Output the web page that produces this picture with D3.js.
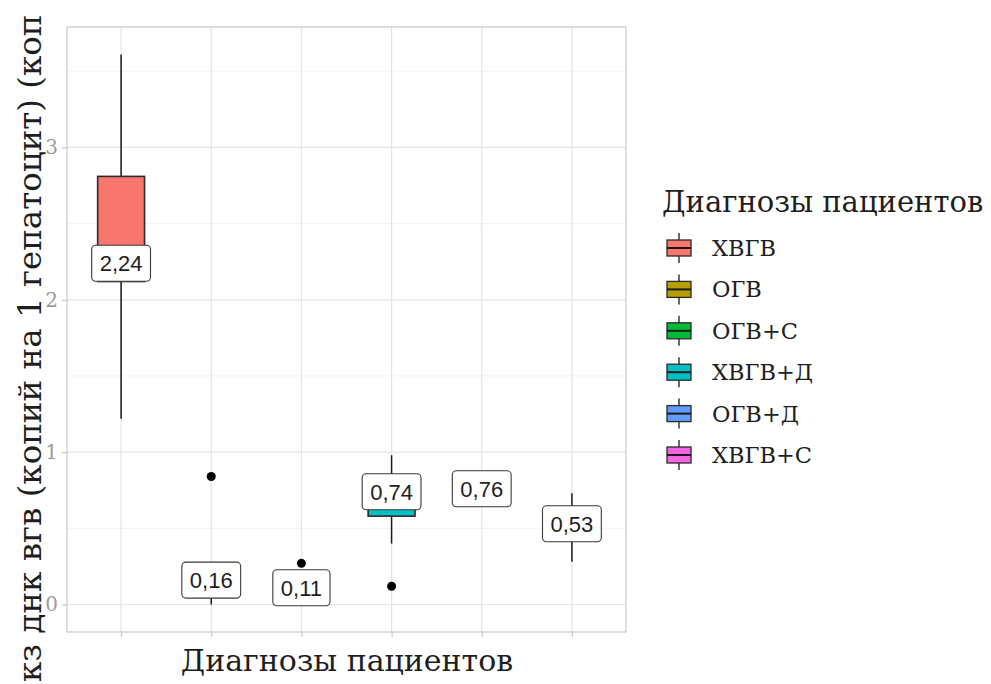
<!DOCTYPE html>
<html>
<head>
<meta charset="utf-8">
<script src="https://cdn.jsdelivr.net/npm/d3@7"></script>
<style>
  body { margin: 0; background: #fff; }
  svg { display: block; }
</style>
</head>
<body>
<svg id="box" width="991" height="684"></svg>
<script>
// diagnoses and the values
const categories = ['ХВГВ', 'ОГВ', 'ОГВ+С', 'ХВГВ+Д', 'ОГВ+Д', 'ХВГВ+С']
const colors = ['#F8766D', '#B79F00', '#00BA38', '#00BFC4', '#619CFF', '#F564E3']
const whiskerLow = [1.22, 0.00, 0.00, 0.40, 0.76, 0.28]
const q1 = [2.12, 0.08, 0.05, 0.58, 0.74, 0.45]
const median = [2.24, 0.16, 0.11, 0.74, 0.76, 0.53]
const q3 = [2.81, 0.22, 0.16, 0.80, 0.78, 0.62]
const whiskerHigh = [3.61, 0.28, 0.20, 0.98, 0.78, 0.73]
const outliers = [[], [0.84], [0.27], [0.12], [], []]
const medianLabels = ['2,24', '0,16', '0,11', '0,74', '0,76', '0,53']
const yTicks = [0, 1, 2, 3]
const yMinor = [0.5, 1.5, 2.5, 3.5]

const serif = 'DejaVu Serif'
const sans = 'Liberation Sans'

const panel = { left: 67, right: 626, top: 27, bottom: 632 }

const data = categories.map((c, i) => ({
  name: c, color: colors[i], lo: whiskerLow[i], q1: q1[i], med: median[i],
  q3: q3[i], hi: whiskerHigh[i], out: outliers[i], label: medianLabels[i]
}))

const svg = d3.select('svg#box')

const x = d3.scalePoint()
  .domain(categories)
  .range([panel.left, panel.right])
  .padding(0.6)

const allVals = data.flatMap(d => [d.lo, d.hi, ...d.out])
const lo = d3.min(allVals), hi = d3.max(allVals)
const pad = (hi - lo) * 0.05
const y = d3.scaleLinear()
  .domain([lo - pad, hi + pad])
  .range([panel.bottom, panel.top])

const boxW = x.step() * 0.52

// grid
const grid = svg.append('g')
grid.selectAll('line.minor')
  .data(yMinor)
  .enter()
    .append('line')
      .attr('x1', panel.left).attr('x2', panel.right)
      .attr('y1', d => y(d)).attr('y2', d => y(d))
      .attr('stroke', '#F3F3F3').attr('stroke-width', 1)
grid.selectAll('line.major')
  .data(yTicks)
  .enter()
    .append('line')
      .attr('x1', panel.left).attr('x2', panel.right)
      .attr('y1', d => y(d)).attr('y2', d => y(d))
      .attr('stroke', '#E4E4E4').attr('stroke-width', 1.2)
grid.selectAll('line.vert')
  .data(categories)
  .enter()
    .append('line')
      .attr('x1', d => x(d)).attr('x2', d => x(d))
      .attr('y1', panel.top).attr('y2', panel.bottom)
      .attr('stroke', '#E4E4E4').attr('stroke-width', 1.2)

// axes (ticks only on x)
const yAxis = svg.append('g')
  .attr('transform', `translate(${panel.left},0)`)
  .call(d3.axisLeft(y).tickValues(yTicks).tickSize(5).tickPadding(4).tickFormat(d3.format('d')))
yAxis.select('.domain').remove()
yAxis.selectAll('line').attr('stroke', '#BDBDBD')
yAxis.selectAll('text')
  .attr('font-family', serif).attr('font-size', 20).attr('fill', '#9A9A9A')

const xAxis = svg.append('g')
  .attr('transform', `translate(0,${panel.bottom})`)
  .call(d3.axisBottom(x).tickSize(5).tickFormat(''))
xAxis.select('.domain').remove()
xAxis.selectAll('line').attr('stroke', '#BDBDBD')

// boxes
const boxes = svg.append('g')
  .selectAll('g.box')
  .data(data)
  .enter()
    .append('g')
      .attr('class', 'box')

boxes.append('line')
  .attr('x1', d => x(d.name)).attr('x2', d => x(d.name))
  .attr('y1', d => y(d.hi)).attr('y2', d => y(d.q3))
  .attr('stroke', '#1a1a1a').attr('stroke-width', 1.5)
boxes.append('line')
  .attr('x1', d => x(d.name)).attr('x2', d => x(d.name))
  .attr('y1', d => y(d.q1)).attr('y2', d => y(d.lo))
  .attr('stroke', '#1a1a1a').attr('stroke-width', 1.5)
boxes.append('rect')
  .attr('x', d => x(d.name) - boxW / 2)
  .attr('width', boxW)
  .attr('y', d => y(d.q3))
  .attr('height', d => y(d.q1) - y(d.q3))
  .attr('fill', d => d.color)
  .attr('stroke', '#2a2a2a').attr('stroke-width', 1.6)
boxes.append('line')
  .attr('x1', d => x(d.name) - boxW / 2).attr('x2', d => x(d.name) + boxW / 2)
  .attr('y1', d => y(d.med)).attr('y2', d => y(d.med))
  .attr('stroke', '#1a1a1a').attr('stroke-width', 3)
boxes.selectAll('circle')
  .data(d => d.out.map(v => ({ name: d.name, v })))
  .enter()
    .append('circle')
      .attr('cx', d => x(d.name))
      .attr('cy', d => y(d.v))
      .attr('r', 4.5)
      .attr('fill', '#000')

// median labels
const labels = svg.append('g')
  .selectAll('g.label')
  .data(data)
  .enter()
    .append('g')
      .attr('class', 'label')
      .attr('transform', d => `translate(${x(d.name)},${y(d.med)})`)
const lrect = labels.append('rect')
const ltext = labels.append('text')
  .text(d => d.label)
  .attr('text-anchor', 'middle')
  .attr('dy', '0.36em')
  .attr('font-family', sans).attr('font-size', 22).attr('fill', '#1e1e1e')
ltext.each(function (d) { d.tw = this.getComputedTextLength() })
lrect
  .attr('x', d => -d.tw / 2 - 8)
  .attr('width', d => d.tw + 16)
  .attr('y', -18).attr('height', 36)
  .attr('rx', 4).attr('ry', 4)
  .attr('fill', '#fff')
  .attr('stroke', '#3a3a3a').attr('stroke-width', 1.1)

// panel border
svg.append('rect')
  .attr('x', panel.left).attr('y', panel.top)
  .attr('width', panel.right - panel.left).attr('height', panel.bottom - panel.top)
  .attr('fill', 'none').attr('stroke', '#C9C9C9').attr('stroke-width', 1.2)

// axis titles
svg.append('text')
  .text('Диагнозы пациентов')
  .attr('x', 347).attr('y', 671)
  .attr('text-anchor', 'middle')
  .attr('font-family', serif).attr('font-size', 30).attr('fill', '#1e1e1e')

svg.append('text')
  .text('кз днк вгв (копий на 1 гепатоцит) (коп')
  .attr('transform', 'translate(41,682) rotate(-90)')
  .attr('text-anchor', 'start')
  .attr('font-family', serif).attr('font-size', 32.5).attr('fill', '#1e1e1e')

// legend
const legend = svg.append('g').attr('transform', 'translate(662,0)')
legend.append('text')
  .text('Диагнозы пациентов')
  .attr('x', 0).attr('y', 212)
  .attr('font-family', serif).attr('font-size', 29).attr('fill', '#1e1e1e')

const rows = legend.selectAll('g.row')
  .data(data)
  .enter()
    .append('g')
      .attr('class', 'row')
      .attr('transform', (d, i) => `translate(0,${248 + i * 41.4})`)
rows.append('line')
  .attr('x1', 17).attr('x2', 17).attr('y1', -15).attr('y2', 15)
  .attr('stroke', '#1a1a1a').attr('stroke-width', 1.3)
rows.append('rect')
  .attr('x', 5).attr('y', -8).attr('width', 24).attr('height', 16)
  .attr('fill', d => d.color)
  .attr('stroke', '#2a2a2a').attr('stroke-width', 1.3)
rows.append('line')
  .attr('x1', 5).attr('x2', 29).attr('y1', 0).attr('y2', 0)
  .attr('stroke', '#1a1a1a').attr('stroke-width', 2)
rows.append('text')
  .text(d => d.name)
  .attr('x', 50).attr('y', 8)
  .attr('font-family', serif).attr('font-size', 22.5).attr('fill', '#1e1e1e')
</script>
</body>
</html>
